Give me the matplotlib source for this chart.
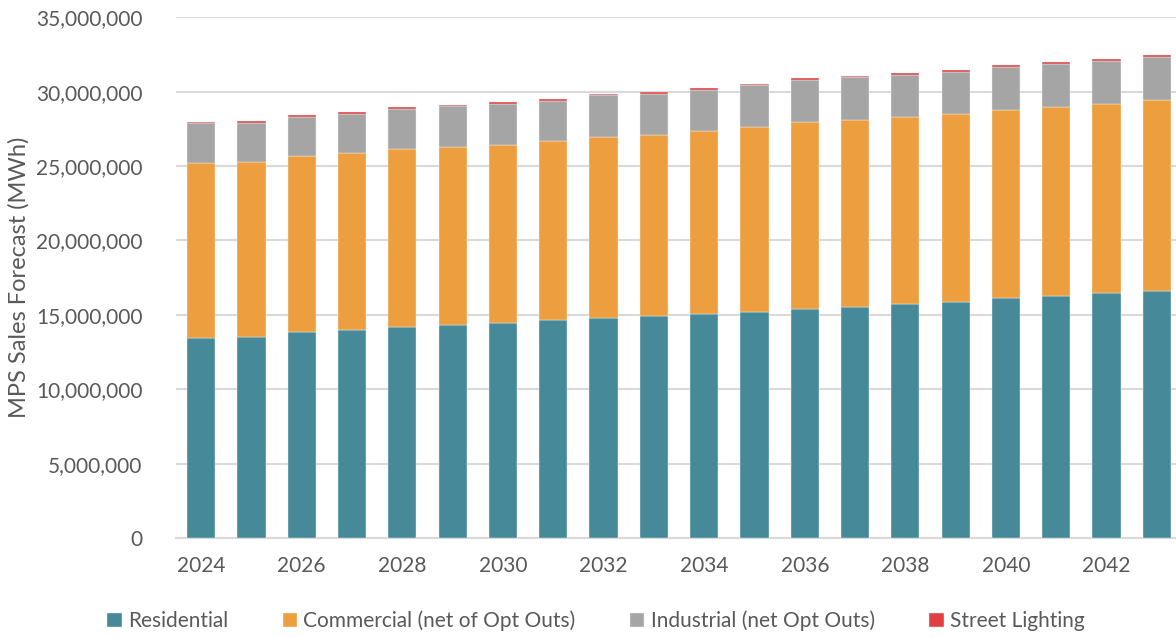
import numpy as np
import matplotlib.pyplot as plt
from matplotlib.ticker import FuncFormatter

# data (MWh)
years = np.arange(2024, 2044)
residential = [13.46, 13.51, 13.87, 14.00, 14.20, 14.34, 14.47, 14.65, 14.81, 14.94,
               15.07, 15.21, 15.41, 15.54, 15.70, 15.88, 16.15, 16.28, 16.47, 16.62]
res_com_top = [25.18, 25.25, 25.65, 25.85, 26.14, 26.28, 26.43, 26.68, 26.95, 27.10,
               27.35, 27.60, 27.94, 28.07, 28.27, 28.47, 28.76, 28.97, 29.19, 29.42]
total = [27.98, 28.02, 28.43, 28.63, 28.97, 29.12, 29.30, 29.50, 29.86, 29.97,
         30.22, 30.53, 30.89, 31.07, 31.25, 31.45, 31.79, 31.99, 32.19, 32.46]
street = [0.12] * 20

residential = np.array(residential) * 1e6
commercial = np.array(res_com_top) * 1e6 - residential
street = np.array(street) * 1e6
industrial = np.array(total) * 1e6 - street - residential - commercial

labels = ["Residential", "Commercial (net of Opt Outs)", "Industrial (net Opt Outs)", "Street Lighting"]
colors = ["#468A99", "#ED9E3E", "#A5A5A5", "#E04040"]

plt.rcParams['font.family'] = ['Lato', 'DejaVu Sans']
txt = "#595959"

fig = plt.figure(figsize=(11.76, 6.37), dpi=100)
ax = fig.add_axes([176/1176, 99/637, 1006/1176, (538-17.2)/637])

x = np.arange(len(years))
bottom = np.zeros(len(years))
for vals, lab, col in zip([residential, commercial, industrial, street], labels, colors):
    ax.bar(x, vals, 0.56, bottom=bottom, color=col, label=lab,
           edgecolor="#F2F2F2", linewidth=0.3, zorder=3)
    bottom = bottom + vals

ax.set_xlim(-0.5, len(years) - 0.5)
ax.set_ylim(0, 35e6)
ax.set_yticks(np.arange(0, 35e6 + 1, 5e6))
ax.yaxis.set_major_formatter(FuncFormatter(lambda v, p: f"{int(v):,}"))
ax.set_xticks(x[::2])
ax.set_xticklabels([str(y) for y in years[::2]])
ax.grid(axis="y", color="#D9D9D9", linewidth=1.5, zorder=0)
for s in ["top", "right", "left"]:
    ax.spines[s].set_visible(False)
ax.spines["bottom"].set_color("#D9D9D9")
ax.spines["bottom"].set_linewidth(1.5)
ax.tick_params(axis="both", length=0, labelsize=15, labelcolor=txt)
ax.tick_params(axis="y", pad=24)
ax.tick_params(axis="x", pad=13)
ax.set_ylabel("MPS Sales Forecast (MWh)", fontsize=17, color=txt, labelpad=5)

fig.legend(loc="center", bbox_to_anchor=(596/1176, 1 - 621/637), ncol=4, frameon=False,
           fontsize=15, labelcolor=txt, handlelength=0.7, handleheight=0.7,
           handletextpad=0.3, columnspacing=2.6)

fig.savefig("out.png", dpi=100)
